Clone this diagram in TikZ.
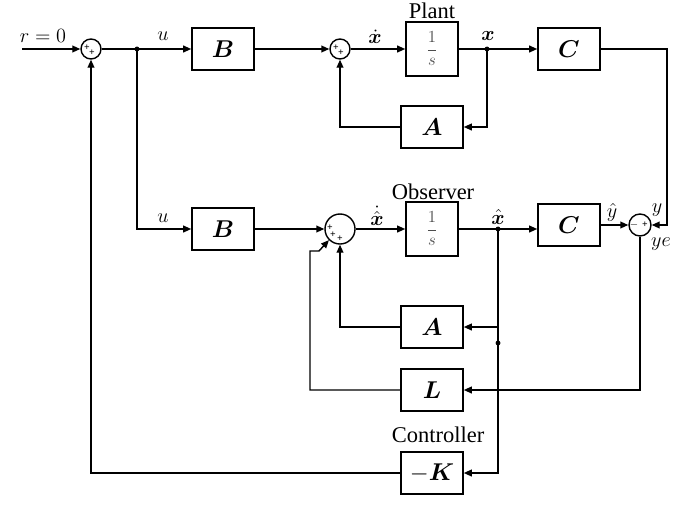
\documentclass[tikz,border=0pt]{standalone}
\usepackage{fontspec}
\setmainfont{Liberation Serif}
\usepackage{amsmath}
\usepackage{bm}
\usetikzlibrary{arrows.meta}

\begin{document}
\begin{tikzpicture}[x=0.025cm,y=-0.025cm,>={Triangle[length=2mm,width=1.7mm]},line width=1pt]
  \tikzstyle{block}=[draw, line width=1.1pt, minimum width=1.55cm, minimum height=1.05cm, inner sep=0pt, font=\fontsize{16}{16}\selectfont]
  \tikzstyle{integ}=[draw=black, line width=1.1pt, minimum width=1.3cm, minimum height=1.35cm, inner sep=0pt, text=black!70, font=\fontsize{12}{12}\selectfont]
  \tikzstyle{sum}=[draw, circle, line width=1pt, minimum size=0.5cm, inner sep=0pt]
  \tikzstyle{bigsum}=[sum, minimum size=0.75cm]
  \tikzstyle{sign}=[font=\fontsize{7}{7}\selectfont\bfseries, inner sep=0pt]
  \tikzstyle{lbl}=[font=\fontsize{15}{15}\selectfont, inner sep=0pt]
  \tikzstyle{title}=[font=\fontsize{16}{16}\selectfont, inner sep=0pt]
  \tikzstyle{arrow}=[->]
  \tikzstyle{dot}=[circle, fill, inner sep=0pt, minimum size=3.5pt]

  \path[use as bounding box] (0,0) rectangle (688,507);

  % plant
  \node[sum] (s1) at (91,49) {};
  \node[block] (b1) at (223,49) {$\bm{B}$};
  \node[sum] (s2) at (340,49) {};
  \node[integ] (p1) at (432,49) {$\dfrac{1}{s}$};
  \node[block] (c1) at (569,49) {$\bm{C}$};
  \node[block] (a1) at (432,127) {$\bm{A}$};
  \node[title] at (432,11) {Plant};

  % observer
  \node[block] (b2) at (223,229) {$\bm{B}$};
  \node[bigsum] (s4) at (340,229) {};
  \node[integ] (p2) at (432,229) {$\dfrac{1}{s}$};
  \node[block] (c2) at (569,225) {$\bm{C}$};
  \node[sum, minimum size=0.55cm] (s3) at (640,225) {};
  \node[block] (a2) at (432,327) {$\bm{A}$};
  \node[block] (l2) at (432,390) {$\bm{L}$};
  \node[title] at (433,192) {Observer};

  % controller
  \node[block] (k2) at (432,473) {$-\bm{K}$};
  \node[title] at (438,435) {Controller};

  % signs
  \node[sign] at (87,48) {+};
  \node[sign] at (92,53) {+};
  \node[sign] at (336,48) {+};
  \node[sign] at (341,53) {+};
  \node[sign] at (330,228) {+};
  \node[sign] at (333,235) {+};
  \node[sign] at (340,239) {+};
  \node[sign] at (634,225) {$-$};
  \node[sign] at (645,225) {+};

  % junctions
  \coordinate (rin) at (22,49);
  \coordinate (j1) at (137,49);
  \coordinate (j2) at (487,49);
  \coordinate (j3) at (498,229);
  \coordinate (j4) at (498,343);
  \coordinate (cr) at (667,225);
  \coordinate (lc) at (310,251);
  \coordinate (lk) at (319,251);
  \foreach \j in {j1,j2,j3,j4} \node[dot] at (\j) {};

  % connectors
  \draw[arrow] (rin) -- (s1.west);
  \draw (s1.east) -- (j1);
  \draw[arrow] (j1) -- (b1.west);
  \draw[arrow] (b1.east) -- (s2.west);
  \draw[arrow] (s2.east) -- (p1.west);
  \draw (p1.east) -- (j2);
  \draw[arrow] (j2) -- (c1.west);
  \draw[arrow] (j2) |- (a1.east);
  \draw[arrow] (a1.west) -| (s2.south);
  \draw[arrow] (c1.east) -| (cr) -- (s3.east);
  \draw[arrow] (j1) |- (b2.west);
  \draw[arrow] (b2.east) -- (s4.west);
  \draw[arrow] (s4.east) -- (p2.west);
  \draw (p2.east) -- (j3);
  \draw[arrow] (j3) -- (c2.west |- j3);
  \draw[arrow] (c2.east) -- (s3.west);
  \draw[arrow] (j3) |- (a2.east);
  \draw (j3) -- (j4);
  \draw[arrow] (j4) |- (k2.east);
  \draw[arrow] (s3.south) |- (l2.east);
  \draw[arrow] (a2.west) -| (s4.south);
  \draw[arrow] (l2.west) -| (lc) -- (lk) -- (s4.225);
  \draw[arrow] (k2.west) -| (s1.south);

  % signal labels
  \node[lbl] at (43,36) {$r=0$};
  \node[lbl] at (163,36) {$u$};
  \node[lbl] at (375,37) {$\dot{\bm{x}}$};
  \node[lbl] at (488,36) {$\bm{x}$};
  \node[lbl] at (163,218) {$u$};
  \node[lbl] at (377,216) {$\dot{\hat{\bm{x}}}$};
  \node[lbl] at (498,217) {$\hat{\bm{x}}$};
  \node[lbl] at (612,212) {$\hat{y}$};
  \node[lbl] at (657,210) {$y$};
  \node[lbl] at (661,244) {$ye$};
\end{tikzpicture}
\end{document}
